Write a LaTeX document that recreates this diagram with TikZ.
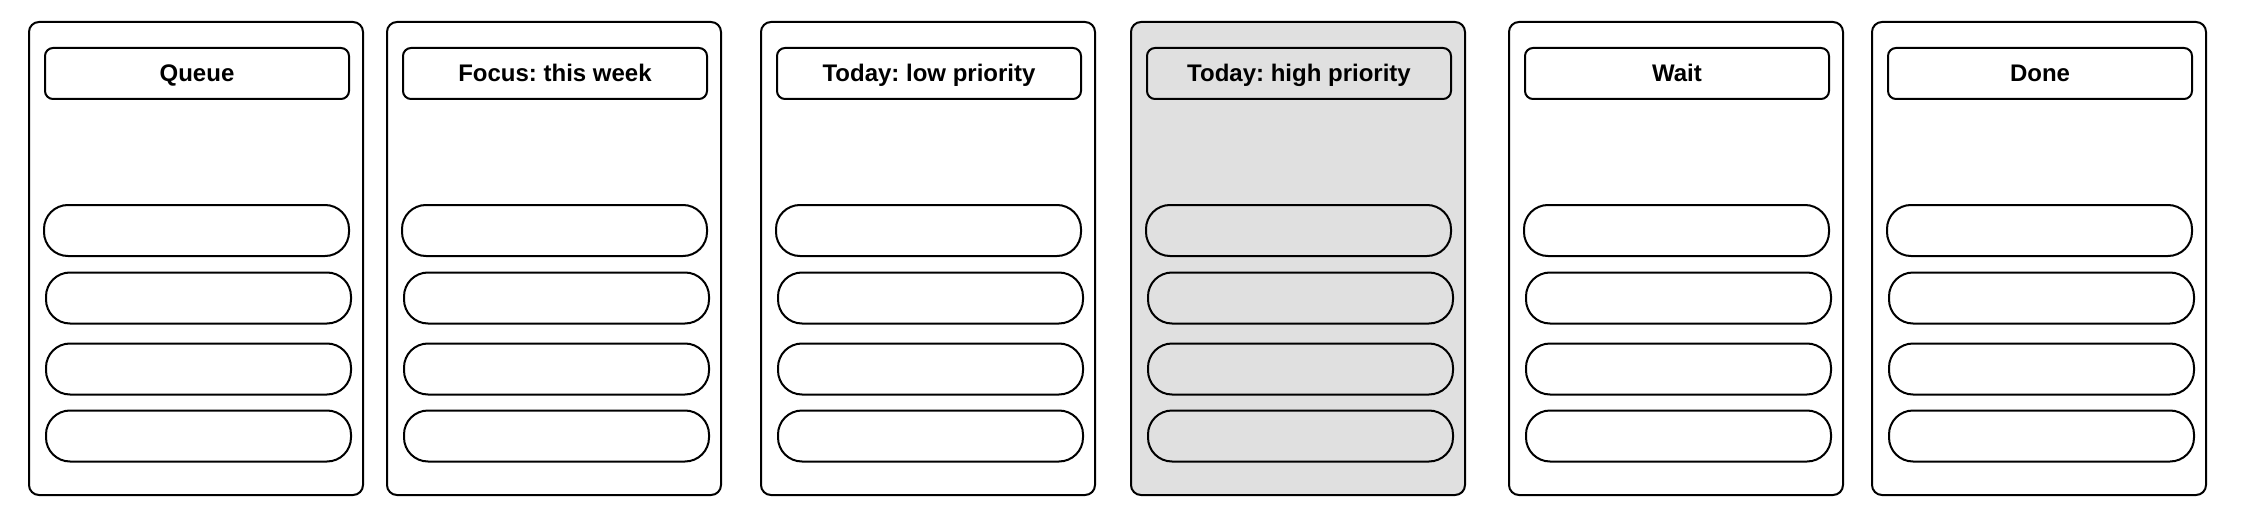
\documentclass[tikz,border=0pt]{standalone}
\usepackage{fontspec}
\setmainfont{Liberation Sans}
\frenchspacing
\definecolor{todaygray}{RGB}{224,224,224}
\tikzset{
  lane/.style={draw, rounded corners=10pt, minimum width=334pt, minimum height=473pt, inner sep=0pt},
  lanetitle/.style={draw, rounded corners=8pt, minimum width=304pt, minimum height=51pt, inner sep=0pt,
    text height=22pt, text depth=5pt, font=\fontsize{24}{28}\selectfont\bfseries},
  card/.style={draw, rounded corners=24pt, minimum width=305pt, minimum height=51pt, inner sep=0pt},
}
\begin{document}
\begin{tikzpicture}[x=1pt, y=-1pt, line width=2pt]
   \useasboundingbox (0,0) rectangle (2244,524);
   \foreach \i/\x/\f/\t in {1/29/white/Queue, 2/387/white/{Focus: this week}, 3/761/white/{Today: low priority},
                            4/1131/todaygray/{Today: high priority}, 5/1509/white/Wait, 6/1872/white/Done} {
      \node[lane, fill=\f] (lane\i) at ({\x+167}, 258.5) {};
      \node[lanetitle] (title\i) at ({\x+168}, 73.5) {\t};
      \foreach \j/\dx/\cy in {1/167.5/230.5, 2/169.5/298, 3/169.5/369, 4/169.5/436}
         \node[card] (card\i\j) at ({\x+\dx}, \cy) {};
   }
\end{tikzpicture}
\end{document}
